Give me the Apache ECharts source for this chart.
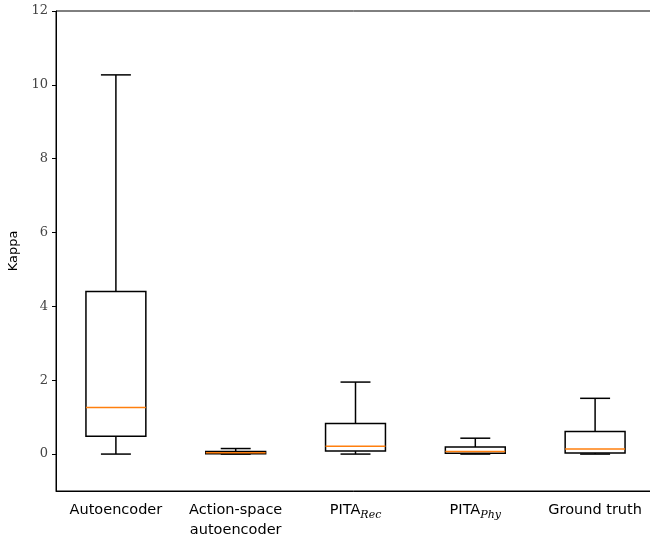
<!DOCTYPE html>
<html><head><meta charset="utf-8">
<script src="https://cdn.jsdelivr.net/npm/echarts@6/dist/echarts.min.js"></script>
<style>html,body{margin:0;padding:0;background:#fff;overflow:hidden}#c{width:650px;height:537px}</style>
</head><body><div id="c"></div>
<script>
const categories = ['Autoencoder', 'Action-space\nautoencoder', 'PITA_Rec', 'PITA_Phy', 'Ground truth'];
const whiskerLow = [0, 0, 0, 0, 0];
const q1 = [0.48, 0.01, 0.08, 0.02, 0.03];
const median = [1.26, 0.035, 0.21, 0.07, 0.14];
const q3 = [4.40, 0.07, 0.83, 0.19, 0.61];
const whiskerHigh = [10.27, 0.15, 1.95, 0.43, 1.51];
const yTicks = [0, 2, 4, 6, 8, 10, 12];

const data = categories.map((c, i) => [i, whiskerLow[i], q1[i], median[i], q3[i], whiskerHigh[i]]);

const chart = echarts.init(document.getElementById('c'));
chart.setOption({
  animation: false,
  grid: { left: 56, width: 599, top: 11, bottom: 46, show: true, borderColor: '#000', borderWidth: 1, backgroundColor: 'transparent', containLabel: false, outerBoundsMode: 'none' },
  xAxis: {
    type: 'category', data: categories, boundaryGap: true,
    axisLine: { onZero: false, lineStyle: { color: '#000', width: 1 } },
    axisTick: { alignWithLabel: true, inside: false, length: 4, lineStyle: { color: '#000' } },
    axisLabel: {
      interval: 0, hideOverlap: false,
      margin: 9, color: '#000', fontFamily: 'DejaVu Sans', fontSize: 14.5, lineHeight: 20,
      formatter: function (v) {
        if (v === 'PITA_Rec') return '{m|PITA}{s|Rec}';
        if (v === 'PITA_Phy') return '{m|PITA}{s|Phy}';
        return v;
      },
      rich: {
        m: { fontFamily: 'DejaVu Sans', fontSize: 14.5, color: '#000' },
        s: { fontFamily: 'DejaVu Serif', fontStyle: 'italic', fontSize: 11, color: '#000', padding: [10, 0, 0, 0] }
      }
    },
    splitLine: { show: false }
  },
  yAxis: {
    type: 'value', min: -1, max: 12,
    name: 'Kappa', nameLocation: 'middle', nameGap: 34, nameRotate: 90,
    nameTextStyle: { color: '#000', fontFamily: 'DejaVu Sans', fontSize: 13 },
    axisLine: { show: true, onZero: false, lineStyle: { color: '#000', width: 1 } },
    axisTick: { show: true, length: 4, lineStyle: { color: '#000' }, customValues: yTicks },
    axisLabel: { color: '#444', fontFamily: 'DejaVu Serif', fontSize: 13, margin: 8, customValues: yTicks },
    splitLine: { show: false }
  },
  series: [{
    type: 'custom',
    data: data,
    encode: { x: 0, y: [1, 2, 3, 4, 5] },
    renderItem: function (params, api) {
      const idx = api.value(0);
      const band = api.size([1, 0])[0];
      const hw = band * 0.25, cw = band * 0.125;
      const pLow = api.coord([idx, api.value(1)]);
      const pQ1 = api.coord([idx, api.value(2)]);
      const pMed = api.coord([idx, api.value(3)]);
      const pQ3 = api.coord([idx, api.value(4)]);
      const pHigh = api.coord([idx, api.value(5)]);
      const x = pQ1[0];
      const blk = { stroke: '#000', lineWidth: 1.5, fill: null };
      return {
        type: 'group',
        children: [
          { type: 'line', shape: { x1: x, y1: pQ1[1], x2: x, y2: pLow[1] }, style: blk },
          { type: 'line', shape: { x1: x, y1: pQ3[1], x2: x, y2: pHigh[1] }, style: blk },
          { type: 'line', shape: { x1: x - cw, y1: pLow[1], x2: x + cw, y2: pLow[1] }, style: blk },
          { type: 'line', shape: { x1: x - cw, y1: pHigh[1], x2: x + cw, y2: pHigh[1] }, style: blk },
          { type: 'rect', shape: { x: x - hw, y: pQ3[1], width: hw * 2, height: pQ1[1] - pQ3[1] }, style: { stroke: '#000', lineWidth: 1.5, fill: 'none' } },
          { type: 'line', shape: { x1: x - hw, y1: pMed[1], x2: x + hw, y2: pMed[1] }, style: { stroke: '#ff7f0e', lineWidth: 1.5 } }
        ]
      };
    }
  }]
});
</script></body></html>
